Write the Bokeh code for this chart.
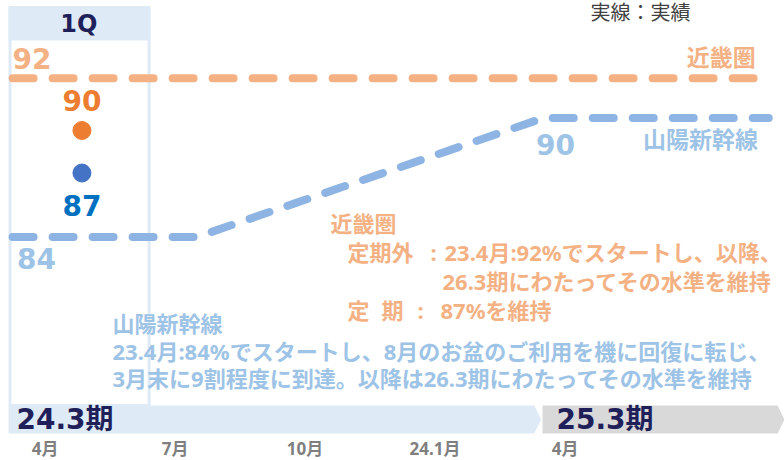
from bokeh.plotting import figure
from bokeh.models import Range1d, Label
from bokeh.core.properties import value
from bokeh.embed import file_html
from bokeh.resources import INLINE

# ---------------- data ----------------
# x = month index (0 = 2023年4月), y = 利用率 (%)
kinki_month = [-0.75, 16.4]
kinki_rate = [92, 92]
sanyo_month = [-0.75, 3.5, 11.5, 16.7]
sanyo_rate = [84, 84, 90, 90]
q1_names = ["近畿圏", "山陽新幹線"]
q1_rate = [90, 87]
q1_month = [0.85, 0.85]
q1_end = 2.4
fy_boundary = 11.5
periods = ["24.3期", "25.3期"]
month_ticks = [0, 3, 6, 9, 12]
month_labels = ["4月", "7月", "10月", "24.1月", "4月"]

# ---------------- colours / fonts ----------------
ORANGE_L = "#F4B183"
ORANGE_D = "#ED7D31"
BLUE_LINE = "#8EB4E3"
BLUE_TXT = "#9DC3E6"
BLUE_DOT = "#4472C4"
BLUE_D = "#0070C0"
NAVY = "#1F1F5A"
PALE = "#DEEBF7"
GREY = "#D9D9D9"
FONT = "DejaVu Sans, Noto Sans CJK JP"
JFONT = "Noto Sans, Noto Sans CJK JP"

# reference-pixel helpers for layout (months / % units)
def XX(px):
    return (px - 44.6) / 43.33

def YY(py):
    return 84 + (236.5 - py) / 19.83

def DY(px):
    return px / 19.83

W, H = 784, 460
p = figure(frame_width=W, frame_height=H, min_border=0,
           x_range=Range1d(XX(0), XX(W)), y_range=Range1d(YY(H), YY(0)),
           output_backend="svg", toolbar_location=None,
           x_axis_location=None, y_axis_location=None)
p.extra_y_ranges = {"q": Range1d(90 - (H - 130) / 14.17, 90 + 130 / 14.17)}
p.xgrid.visible = False
p.ygrid.visible = False
p.outline_line_color = None
p.background_fill_color = "white"

x0 = XX(8)
x1 = XX(W)
btop, bbot = YY(405), YY(433)
bmid = (btop + bbot) / 2
tip = 0.16

# 1Q panel
p.quad(left=[XX(9.5)], right=[q1_end], top=[YY(7)], bottom=[btop],
       fill_color=None, line_color=PALE, line_width=3)
p.quad(left=[x0], right=[q1_end + 0.03], top=[YY(6)], bottom=[YY(40)],
       fill_color=PALE, line_color=None)

# period banners
lt = fy_boundary - 0.05
p.patch([x0, lt - tip, lt, lt - tip, x0], [btop, btop, bmid, bbot, bbot],
        fill_color=PALE, line_color=None)
gs = fy_boundary - 0.02
p.patch([gs, x1 - tip, x1, x1 - tip, gs], [btop, btop, bmid, bbot, bbot],
        fill_color=GREY, line_color=None)

# month labels (axis)
p.text(x=month_ticks, y=[YY(448)] * len(month_ticks), text=month_labels,
       text_font=value(JFONT), text_font_size="17px", text_font_style="bold",
       text_color="#7F7F7F", text_align="center", text_baseline="middle")

# lines
p.line(kinki_month, kinki_rate, line_width=8, line_color=ORANGE_L,
       line_dash="21 19", line_cap="round")
p.line(sanyo_month, sanyo_rate, line_width=8, line_color=BLUE_LINE,
       line_dash="21 19", line_cap="round")

# 1Q actual dots
p.scatter(q1_month, q1_rate, size=18, color=[ORANGE_D, BLUE_DOT],
          y_range_name="q")


def lab(x, y, text, size, color, align="left", bold=True, yr="default", font=FONT):
    p.add_layout(Label(x=x, y=y, text=text, text_font=font,
                       text_font_size=f"{size}px",
                       text_font_style="bold" if bold else "normal",
                       text_color=color, text_align=align,
                       text_baseline="middle", y_range_name=yr))


# 1Q labels
lab((x0 + q1_end) / 2, YY(23), "1Q", 24, NAVY, "center")
lab(q1_month[0], q1_rate[0] + 30 / 14.17, str(q1_rate[0]), 28, ORANGE_D, "center", yr="q")
lab(q1_month[1], q1_rate[1] - 32 / 14.17, str(q1_rate[1]), 28, BLUE_D, "center", yr="q")

# value labels on lines
lab(kinki_month[0], kinki_rate[0] + DY(20), str(kinki_rate[0]), 28, ORANGE_L)
lab(sanyo_month[0] + 0.1, sanyo_rate[0] - DY(21), str(sanyo_rate[0]), 28, BLUE_TXT)
lab(sanyo_month[2] + 0.28, sanyo_rate[2] - DY(26), str(sanyo_rate[2]), 28, BLUE_TXT, "center")
lab(kinki_month[-1], kinki_rate[-1] + DY(21), q1_names[0], 23, ORANGE_L, "right", font=JFONT)
lab(sanyo_month[-1] - 0.25, sanyo_rate[-1] - DY(21), q1_names[1], 23, BLUE_TXT, "right", font=JFONT)

# top note
lab(XX(640), YY(12), "実線：実績", 20, "#404040", "center", bold=False, font=JFONT)

# 近畿圏 note
TS = 22
lab(XX(330), YY(222), "近畿圏", TS, ORANGE_L, font=JFONT)
lab(XX(347), YY(251), "定期外", TS, ORANGE_L, font=JFONT)
lab(XX(433), YY(251), ":", TS, ORANGE_L, "center", font=JFONT)
lab(XX(444), YY(251), "23.4月:92%でスタートし、以降、", TS, ORANGE_L, font=JFONT)
lab(XX(442), YY(280), "26.3期にわたってその水準を維持", TS, ORANGE_L, font=JFONT)
lab(XX(347), YY(309), "定", TS, ORANGE_L, font=JFONT)
lab(XX(381), YY(309), "期", TS, ORANGE_L, font=JFONT)
lab(XX(420), YY(309), ":", TS, ORANGE_L, "center", font=JFONT)
lab(XX(440), YY(309), "87%を維持", TS, ORANGE_L, font=JFONT)

# 山陽新幹線 note
lab(XX(112), YY(322), "山陽新幹線", TS, BLUE_TXT, font=JFONT)
lab(XX(112), YY(350), "23.4月:84%でスタートし、8月のお盆のご利用を機に回復に転じ、", TS, BLUE_TXT, font=JFONT)
lab(XX(112), YY(377), "3月末に9割程度に到達。以降は26.3期にわたってその水準を維持", TS, BLUE_TXT, font=JFONT)

# period labels
lab(XX(16), YY(419), periods[0], 28, NAVY)
lab(XX(556), YY(419), periods[1], 28, NAVY)

open("out.html", "w").write(file_html(p, INLINE))
